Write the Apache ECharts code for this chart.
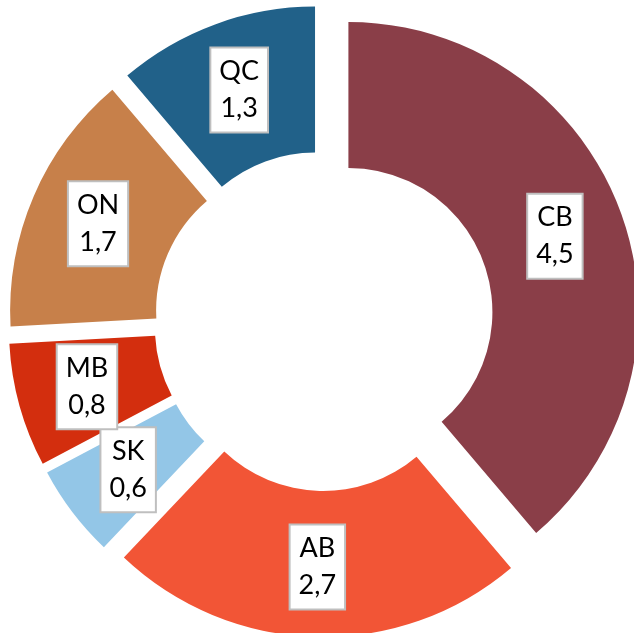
<!DOCTYPE html>
<html>
<head>
<meta charset="utf-8">
<script src="https://cdn.jsdelivr.net/npm/echarts@6/dist/echarts.min.js"></script>
<style>
  html, body { margin: 0; padding: 0; background: #fff; }
  #chart { width: 634px; height: 633px; }
</style>
</head>
<body>
<div id="chart"></div>
<script>
// clockwise from 12 o'clock
const regions = ["CB", "AB", "SK", "MB", "ON", "QC"];
const values = [4.5, 2.7, 0.6, 0.8, 1.7, 1.3];
const colors = ["#8a3e48", "#f25536", "#93c6e7", "#d32e0e", "#c7804a", "#216189"];

const chart = echarts.init(document.getElementById("chart"), null, { renderer: "canvas" });

const data = regions.map((name, i) => ({
  name,
  value: values[i],
  selected: true,
  itemStyle: { color: colors[i] },
  select: { itemStyle: { color: colors[i] } },
}));

chart.setOption({
  animation: false,
  backgroundColor: "#fff",
  series: [
    {
      type: "pie",
      center: [324, 321],
      radius: [144, 290],
      startAngle: 90,
      clockwise: true,
      selectedMode: "multiple",
      selectedOffset: 26,
      avoidLabelOverlap: false,
      emphasis: { disabled: true },
      label: {
        show: true,
        position: "inside",
        formatter: (p) => p.name + "\n" + String(p.value).replace(".", ","),
        color: "#000",
        fontFamily: "Lato",
        fontSize: 27,
        lineHeight: 37,
        backgroundColor: "#fff",
        borderColor: "#bfbfbf",
        borderWidth: 2,
        padding: [5, 8, 4, 8],
      },
      labelLayout: { hideOverlap: false },
      labelLine: { show: false },
      data,
    },
  ],
});
</script>
</body>
</html>
